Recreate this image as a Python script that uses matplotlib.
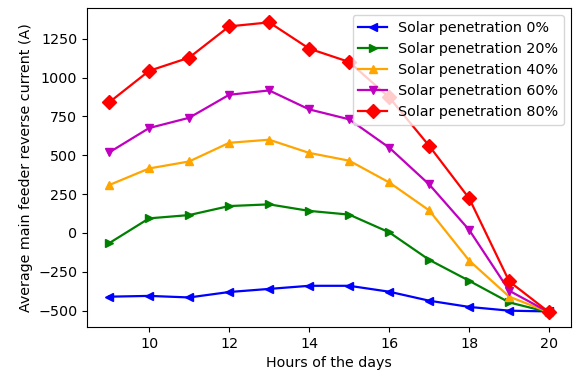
import matplotlib
matplotlib.use('Agg')
import matplotlib.pyplot as plt

# --- Dados ---
horas = [9, 10, 11, 12, 13, 14, 15, 16, 17, 18, 19, 20]

pen0 = [-410, -405, -415, -380, -360, -340, -340, -378, -436, -476, -500, -505]
pen20 = [-66, 94, 115, 173, 184, 142, 118, 4, -173, -308, -447, -511]
pen40 = [308, 415, 460, 580, 600, 515, 465, 325, 145, -178, -410, -511]
pen60 = [518, 675, 741, 889, 917, 795, 731, 549, 312, 19, -372, -511]
pen80 = [840, 1043, 1128, 1329, 1355, 1186, 1100, 872, 560, 222, -312, -511]

rotulos = ['Solar penetration 0%', 'Solar penetration 20%', 'Solar penetration 40%',
           'Solar penetration 60%', 'Solar penetration 80%']

plt.rcParams['font.size'] = 10.3

# --- Plot ---
fig, ax = plt.subplots(figsize=(5.73, 3.74), dpi=100)
fig.subplots_adjust(left=0.152, right=0.997, top=0.979, bottom=0.126)

estilo = dict(linewidth=1.6, markersize=6)
ax.plot(horas, pen0, color='b', marker='<', label=rotulos[0], **estilo)
ax.plot(horas, pen20, color='g', marker='>', label=rotulos[1], **estilo)
ax.plot(horas, pen40, color='orange', marker='^', label=rotulos[2], **estilo)
ax.plot(horas, pen60, color='m', marker='v', label=rotulos[3], **estilo)
ax.plot(horas, pen80, color='r', marker='D', label=rotulos[4], markersize=7, linewidth=1.6)

ax.set_xlabel('Hours of the days')
ax.set_ylabel('Average main feeder reverse current (A)')
ax.legend(loc='upper right')

fig.savefig('out.png')
